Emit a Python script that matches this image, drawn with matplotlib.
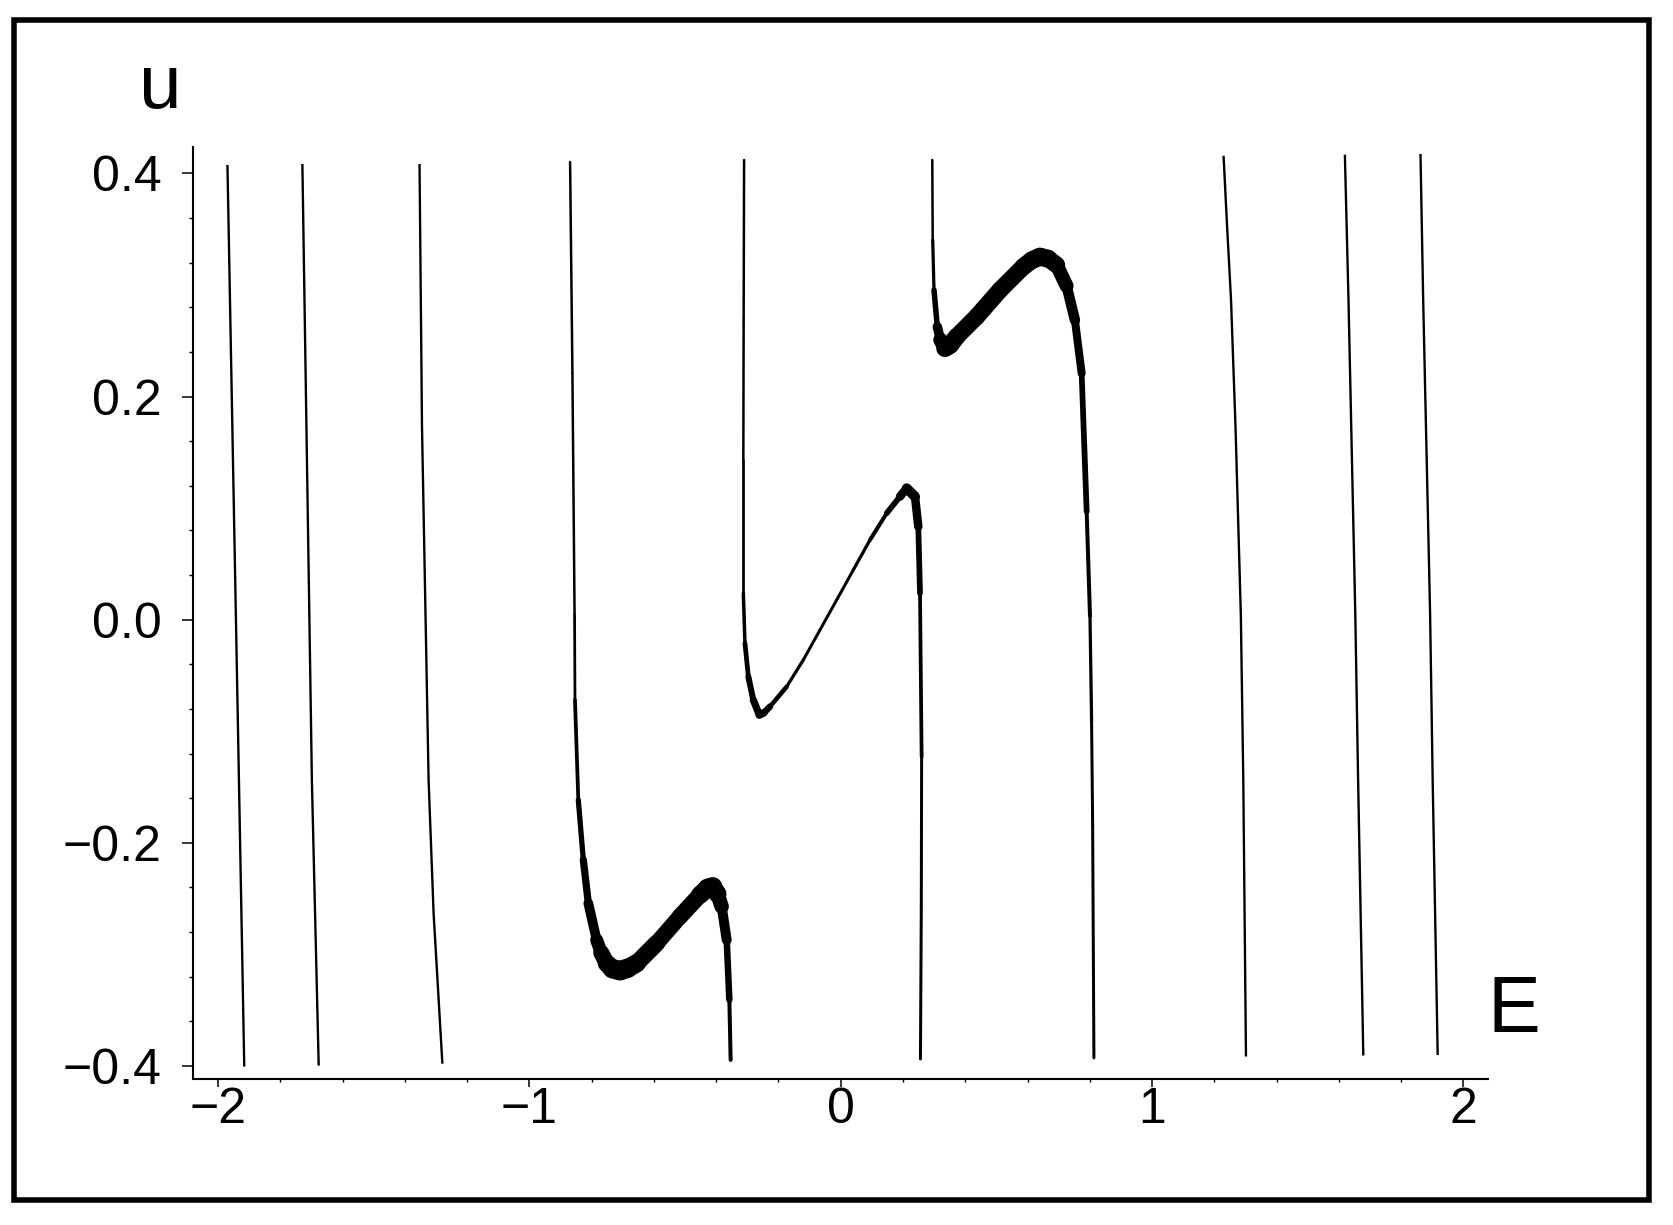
import matplotlib
matplotlib.use("Agg")
import matplotlib.pyplot as plt
import numpy as np
from matplotlib.collections import LineCollection
from matplotlib.patches import Rectangle

plt.rcParams['font.family'] = ['Liberation Sans', 'DejaVu Sans']

# ---------------- data (E, u) ----------------
# thin, nearly vertical contour branches
line1_E = [-1.970, -1.943, -1.916]
line1_u = [0.4076, 0.0046, -0.4006]
line2_E = [-1.7293, -1.7070, -1.6988, -1.6769]
line2_u = [0.4084, 0.0046, -0.1436, -0.3997]
line3_E = [-1.3530, -1.3451, -1.3338, -1.3239, -1.3078, -1.2796]
line3_u = [0.4084, 0.1729, 0.0046, -0.1436, -0.2632, -0.3980]
line7_E = [1.2296, 1.2406, 1.2536, 1.2680, 1.2851, 1.2930, 1.3016]
line7_u = [0.4158, 0.3546, 0.2867, 0.1729, 0.0046, -0.1436, -0.3916]
line8_E = [1.6193, 1.6309, 1.6528, 1.6618, 1.6785]
line8_u = [0.4167, 0.2867, 0.0046, -0.1436, -0.3907]
line9_E = [1.8622, 1.8708, 1.8931, 1.9013, 1.9174]
line9_u = [0.4174, 0.2867, 0.0046, -0.1436, -0.3903]

# S-shaped branches
s1_E = [-0.8694, -0.8619, -0.8550, -0.8537, -0.8430, -0.8269, -0.8108, -0.7841,
        -0.7694, -0.7519, -0.7334, -0.7091, -0.6837, -0.6556, -0.5912, -0.5165,
        -0.4520, -0.4284, -0.4112, -0.3958, -0.3825, -0.3663, -0.3578, -0.3537]
s1_u = [0.4102, 0.2207, 0.0046, -0.0719, -0.1616, -0.2153, -0.2542, -0.2871,
        -0.2985, -0.3080, -0.3129, -0.3146, -0.3124, -0.3080, -0.2900, -0.2661,
        -0.2467, -0.2407, -0.2393, -0.2459, -0.2572, -0.2871, -0.3408, -0.3946]
s2_E = [-0.3105, -0.3119, -0.3129, -0.3129, -0.3077, -0.2968, -0.2810, -0.2615,
        -0.2467, -0.2272, -0.1737, -0.1203, -0.0668, -0.0130, 0.0404, 0.0939,
        0.1474, 0.1902, 0.2118, 0.2385, 0.2491, 0.2546, 0.2598, 0.2587, 0.2560]
s2_u = [0.4120, 0.2685, 0.1431, 0.0237, -0.0212, -0.0511, -0.0719, -0.0854,
        -0.0834, -0.0779, -0.0601, -0.0361, -0.0093, 0.0177, 0.0446, 0.0714,
        0.0953, 0.1103, 0.1177, 0.1103, 0.0834, 0.0237, -0.1228, -0.2574, -0.3938]
s3_E = [0.2940, 0.2954, 0.2995, 0.3101, 0.3204, 0.3348, 0.3513, 0.3722, 0.4366,
        0.5117, 0.5864, 0.6134, 0.6398, 0.6666, 0.6936, 0.7255, 0.7522, 0.7738,
        0.7899, 0.8006, 0.8057, 0.8091, 0.8132]
s3_u = [0.4120, 0.3403, 0.2955, 0.2626, 0.2508, 0.2432, 0.2460, 0.2536, 0.2716,
        0.2955, 0.3163, 0.3221, 0.3253, 0.3235, 0.3179, 0.2991, 0.2685, 0.2208,
        0.0970, 0.0033, -0.0906, -0.1843, -0.3928]

# stroke thickness (pixels) along the S branches (style)
s1_w = [2.5, 2.5, 2.5, 3, 4.5, 6, 8.5, 11, 15, 17, 19, 20, 19, 18, 16, 16, 17, 19,
        19, 17, 12, 8, 5, 3]
s2_w = [2.5, 2.5, 2.5, 3, 4, 5.5, 6.5, 8, 7.5, 5.5, 3.5, 3, 3, 3, 3, 3.5, 4.5, 7,
        10, 10, 7, 4.5, 3, 3, 3]
s3_w = [2.5, 2.5, 4, 7, 12, 17, 18, 17, 17, 17, 17, 18, 18, 18, 16, 12, 9, 7,
        4.5, 3.5, 3, 3, 3]

x_ticks = [-2, -1, 0, 1, 2]
x_ticklabels = ['\u22122', '\u22121', '0', '1', '2']
y_ticks = [-0.4, -0.2, 0.0, 0.2, 0.4]
y_ticklabels = ['\u22120.4', '\u22120.2', '0.0', '0.2', '0.4']

# ---------------- figure ----------------
W, H = 1673, 1225
fig = plt.figure(figsize=(W / 100, H / 100), dpi=100)
fig.patch.set_facecolor('white')

ax = fig.add_axes([193.2 / W, 1 - 1079.3 / H, (1488.3 - 193.2) / W, (1079.3 - 146.6) / H])
ax.set_xlim(-2.08, 2.08)
ax.set_ylim(-0.412, 0.424)
ax.set_facecolor('white')

thin = 1.7
for E, u in [(line1_E, line1_u), (line2_E, line2_u), (line3_E, line3_u),
             (line7_E, line7_u), (line8_E, line8_u), (line9_E, line9_u)]:
    ax.plot(E, u, color='black', lw=thin, solid_capstyle='butt')

for E, u, w in [(s1_E, s1_u, s1_w), (s2_E, s2_u, s2_w), (s3_E, s3_u, s3_w)]:
    pts = np.column_stack([E, u])
    segs = np.stack([pts[:-1], pts[1:]], axis=1)
    w = np.asarray(w, dtype=float)
    lws = (w[:-1] + w[1:]) / 2 * 0.72
    lc = LineCollection(segs, linewidths=lws, colors='black',
                        capstyle='round', joinstyle='round')
    ax.add_collection(lc)

for side in ['top', 'right']:
    ax.spines[side].set_visible(False)
for side in ['left', 'bottom']:
    ax.spines[side].set_linewidth(1.5)
    ax.spines[side].set_color('black')

ax.set_xticks(x_ticks)
ax.set_xticklabels(x_ticklabels)
ax.set_yticks(y_ticks)
ax.set_yticklabels(y_ticklabels)
ax.set_xticks(np.arange(-2.0, 2.01, 0.2), minor=True)
ax.set_yticks(np.arange(-0.4, 0.401, 0.04), minor=True)

ax.tick_params(axis='x', which='major', direction='out', length=5.8, width=1.1,
               labelsize=36, pad=0)
ax.tick_params(axis='x', which='minor', direction='out', length=2.5, width=1.0)
ax.tick_params(axis='y', which='major', direction='out', length=7.7, width=1.1,
               labelsize=36, pad=15)
ax.tick_params(axis='y', which='minor', direction='out', length=2.9, width=1.0)

fig.text(160.7 / W, 1 - 108.3 / H, 'u', fontsize=55, ha='center', va='baseline')
fig.text(1513.5 / W, 1 - 1031.7 / H, 'E', fontsize=57, ha='center', va='baseline')

frame = Rectangle((14.4 / W, 1 - 1199.7 / H), (1648.5 - 14.4) / W, (1199.7 - 20) / H,
                  transform=fig.transFigure, fill=False, edgecolor='black',
                  linewidth=4.0, joinstyle='miter')
fig.add_artist(frame)

fig.savefig('out.png', dpi=100, facecolor='white')
